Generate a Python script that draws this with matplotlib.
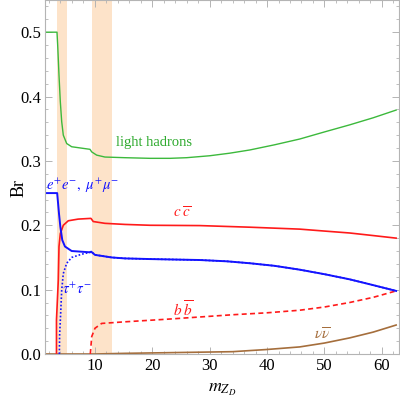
import matplotlib
matplotlib.use("Agg")
import matplotlib.pyplot as plt
from matplotlib.ticker import MultipleLocator

plt.rcParams['font.family'] = ['Liberation Serif', 'DejaVu Serif']
plt.rcParams['mathtext.fontset'] = 'stix'

# valores (m_ZD en GeV, Br)
x_had = [1.3, 3.39, 3.51, 3.74, 3.97, 4.21, 4.49, 5.08, 5.95, 9.14, 9.44, 10.3, 11.75, 15.2,
         19.6, 23.1, 26.0, 30.0, 33.5, 37.0, 41.3, 45.7, 50.0, 54.4, 58.5, 62.5]
br_had = [0.5, 0.5, 0.480, 0.433, 0.392, 0.361, 0.340, 0.327, 0.322, 0.318, 0.314, 0.309, 0.306,
          0.305, 0.304, 0.304, 0.305, 0.308, 0.312, 0.317, 0.325, 0.334, 0.345, 0.356, 0.367, 0.379]

x_mu = [1.3, 3.42, 3.74, 3.97, 4.31, 4.78, 5.95, 9.14, 9.35, 10.01, 12.92, 15.24,
        19.6, 28.3, 33.0, 37.0, 41.3, 45.7, 50.0, 54.4, 58.5, 62.5]
br_mu = [0.25, 0.25, 0.218, 0.198, 0.177, 0.167, 0.160, 0.158, 0.159, 0.154, 0.150, 0.1485,
         0.1475, 0.146, 0.144, 0.141, 0.137, 0.131, 0.124, 0.116, 0.107, 0.098]

x_cc = [3.3, 3.3, 3.62, 3.74, 3.97, 4.49, 5.36, 7.10, 9.31, 9.71, 11.75, 15.24,
        19.6, 28.3, 37.0, 45.7, 50.0, 54.4, 58.5, 62.5]
br_cc = [0.0, 0.053, 0.115, 0.167, 0.187, 0.200, 0.207, 0.2096, 0.2107, 0.2058, 0.203, 0.2013,
         0.200, 0.1995, 0.197, 0.194, 0.191, 0.188, 0.184, 0.180]

x_tau = [3.8, 3.85, 4.03, 4.21, 4.49, 5.08, 5.95, 7.69, 9.14, 9.35, 10.01, 12.92, 15.24,
         19.6, 28.3, 33.0, 37.0, 41.3, 45.7, 50.0, 54.4, 58.5, 62.5]
br_tau = [0.0, 0.030, 0.063, 0.099, 0.125, 0.141, 0.150, 0.155, 0.158, 0.159, 0.154, 0.150, 0.1485,
          0.1475, 0.146, 0.144, 0.141, 0.137, 0.131, 0.124, 0.116, 0.107, 0.098]

x_bb = [9.2, 9.44, 10.01, 11.18, 15.24, 22.5, 34.05, 40.0, 45.7, 50.0, 54.4, 58.5, 62.5]
br_bb = [0.0, 0.027, 0.040, 0.0475, 0.050, 0.054, 0.061, 0.064, 0.068, 0.073, 0.080, 0.088, 0.098]

x_nu = [1.3, 10.0, 15.2, 22.5, 34.0, 40.0, 45.7, 50.0, 54.4, 58.5, 62.5]
br_nu = [0.0, 0.0, 0.001, 0.002, 0.0036, 0.007, 0.011, 0.017, 0.025, 0.034, 0.045]

# regiones sombreadas (resonancias)
bandas = [(3.34, 5.1), (9.5, 12.92)]

green = '#3cb93c'
blue = '#1414ff'
red = '#ff1a1a'
brown = '#a56e3c'

fig = plt.figure(figsize=(4.0, 3.99), dpi=100)
ax = fig.add_axes([0.1125, 0.1128, 0.885, 0.8872])

for a, b in bandas:
    ax.axvspan(a, b, color='#fde3c9', lw=0, zorder=0)

ax.plot(x_nu, br_nu, color=brown, lw=1.2)
ax.plot(x_bb, br_bb, color=red, lw=1.2, ls=(0, (3, 2)))
ax.plot(x_tau, br_tau, color=blue, lw=1.2, ls=(0, (1, 1.2)))
ax.plot(x_cc, br_cc, color=red, lw=1.2)
ax.plot(x_mu, br_mu, color=blue, lw=1.4)
ax.plot(x_had, br_had, color=green, lw=1.0)

ax.text(20.3, 0.329, 'light hadrons', color='#2eaa2e', fontsize=10.5, ha='center', va='center')
ax.text(1.45, 0.262, r'$e^{+}e^{-},\ \mu^{+}\mu^{-}$', color=blue, fontsize=10.5, ha='left', va='center')
ax.text(4.26, 0.100, r'$\tau^{+}\tau^{-}$', color=blue, fontsize=10.5, ha='left', va='center')
ax.text(25.3, 0.219, r'$c\;\overline{c}$', color=red, fontsize=11, ha='center', va='center')
ax.text(25.3, 0.068, r'$b\;\overline{b}$', color=red, fontsize=11, ha='center', va='center')
ax.text(49.6, 0.030, r'$\nu\overline{\nu}$', color=brown, fontsize=11, ha='center', va='center')

ax.set_xlim(1.3, 63)
ax.set_ylim(0, 0.55)
ax.xaxis.set_major_locator(MultipleLocator(10))
ax.xaxis.set_minor_locator(MultipleLocator(2))
ax.yaxis.set_major_locator(MultipleLocator(0.1))
ax.yaxis.set_minor_locator(MultipleLocator(0.02))
ax.yaxis.set_major_formatter(plt.FuncFormatter(lambda v, p: '%.1f' % v))

for s in ax.spines.values():
    s.set_color('#b4b4b4')
    s.set_linewidth(0.8)
ax.tick_params(which='both', direction='in', top=True, right=True, color='#b4b4b4',
               labelsize=12, pad=3)
ax.tick_params(which='major', length=5, width=0.7)
ax.tick_params(which='minor', length=2.5, width=0.6)

ax.set_xlabel(r'$m_{Z_D}$', fontsize=13, labelpad=5)
ax.set_ylabel('Br', fontsize=13)
ax.yaxis.set_label_coords(-0.05, 0.47)

fig.savefig('out.png', dpi=100)
